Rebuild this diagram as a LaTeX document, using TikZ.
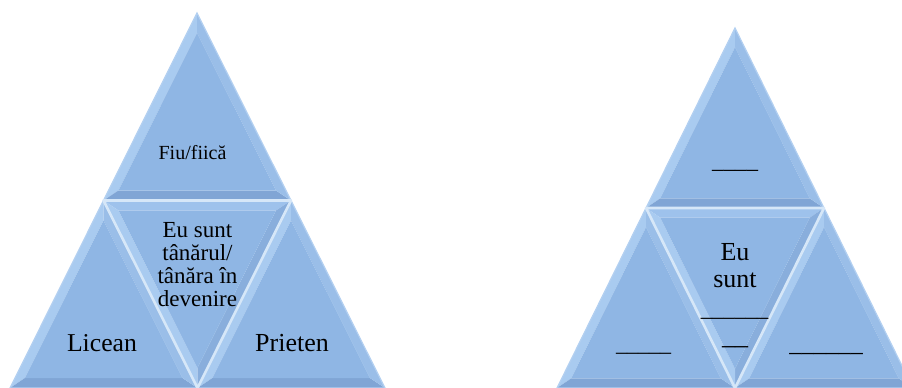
\documentclass[tikz,border=0pt]{standalone}
\usepackage{fontspec}
\setmainfont{Liberation Serif}
\usetikzlibrary{calc}
\definecolor{midc}{HTML}{8FB6E4}
\definecolor{lightf}{HTML}{A9CBF0}
\definecolor{medf}{HTML}{9ABEE8}
\definecolor{darkf}{HTML}{80A5D5}
\definecolor{topf}{HTML}{9EC2EC}
\definecolor{rdown}{HTML}{89AEDC}
\definecolor{gapc}{HTML}{D6E7F8}
\definecolor{rimc}{HTML}{B3D0F1}
\newcommand\bevtri[6]{%
  \coordinate (bG) at (barycentric cs:#1=1,#2=1,#3=1);
  \coordinate (bA) at ($(bG)!0.84!(#1)$);
  \coordinate (bB) at ($(bG)!0.84!(#2)$);
  \coordinate (bC) at ($(bG)!0.84!(#3)$);
  \fill[#4] (#1)--(#2)--(bB)--(bA)--cycle;
  \fill[#5] (#2)--(#3)--(bC)--(bB)--cycle;
  \fill[#6] (#3)--(#1)--(bA)--(bC)--cycle;
  \fill[midc] (bA)--(bB)--(bC)--cycle;
}
\tikzset{
  lbl/.style={inner sep=0pt, anchor=base, text=black},
  gapline/.style={draw=gapc, line width=2.6pt, line join=round},
  rimline/.style={draw=rimc, line width=1.2pt, line join=miter}
}
\begin{document}
\begin{tikzpicture}[x=1pt,y=-1pt]
\useasboundingbox (0,0) rectangle (902,388);
\clip (0,0) rectangle (902,388);
% ---------- left pyramid ----------
\coordinate (LA) at (197,13);
\coordinate (LB) at (10,388);
\coordinate (LC) at (385,388);
\coordinate (LL) at ($(LA)!0.5!(LB)$);
\coordinate (LR) at ($(LA)!0.5!(LC)$);
\coordinate (LM) at ($(LB)!0.5!(LC)$);
\bevtri{LA}{LL}{LR}{lightf}{darkf}{medf}
\bevtri{LL}{LB}{LM}{lightf}{darkf}{medf}
\bevtri{LR}{LM}{LC}{lightf}{darkf}{medf}
\bevtri{LL}{LR}{LM}{topf}{rdown}{lightf}
\draw[rimline] (LA)--(LB)--(LC)--cycle;
\draw[gapline] (LL)--(LR)--(LM)--cycle;
% ---------- right pyramid ----------
\coordinate (RA) at (735,28);
\coordinate (RB) at (557,388);
\coordinate (RC) at (913,388);
\coordinate (RL) at ($(RA)!0.5!(RB)$);
\coordinate (RR) at ($(RA)!0.5!(RC)$);
\coordinate (RM) at ($(RB)!0.5!(RC)$);
\bevtri{RA}{RL}{RR}{lightf}{darkf}{medf}
\bevtri{RL}{RB}{RM}{lightf}{darkf}{medf}
\bevtri{RR}{RM}{RC}{lightf}{darkf}{medf}
\bevtri{RL}{RR}{RM}{topf}{rdown}{lightf}
\draw[rimline] (RA)--(RB)--(RC)--cycle;
\draw[gapline] (RL)--(RR)--(RM)--cycle;
% ---------- left texts ----------
\node[lbl, font=\fontsize{20}{22}\selectfont] (fiu) at (192.5,159) {Fiu/fiică};
\node[lbl, font=\fontsize{23}{23}\selectfont, align=center] (eusunt) at (197.5,306) {Eu sunt\\tânărul/\\tânăra în\\devenire};
\node[lbl, font=\fontsize{25.7}{28}\selectfont] (licean) at (102,351) {Licean};
\node[lbl, font=\fontsize{26}{28}\selectfont] (prieten) at (292,351) {Prieten};
% ---------- right texts ----------
\node[lbl, font=\fontsize{23}{23}\selectfont] (blanktop) at (735,168.5) {\_\_\_\_};
\node[lbl, font=\fontsize{26}{27}\selectfont, align=center] (eu2) at (735,287) {Eu\\sunt};
\node[lbl, font=\fontsize{22.5}{23}\selectfont] (blankmid) at (734.5,316.5) {\_\_\_\_\_\_};
\node[lbl, font=\fontsize{26}{27}\selectfont] (blanksm) at (735,344) {\_\_};
\node[lbl, font=\fontsize{22}{23}\selectfont] (blankl) at (643.5,351.5) {\_\_\_\_\_};
\node[lbl, font=\fontsize{24.5}{25}\selectfont] (blankr) at (826,351) {\_\_\_\_\_\_};
\end{tikzpicture}
\end{document}
